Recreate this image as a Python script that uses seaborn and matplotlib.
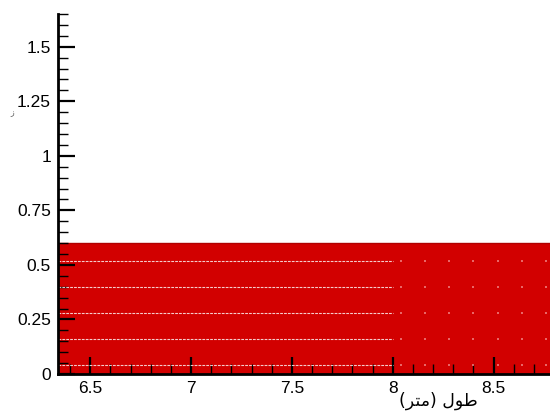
import matplotlib
matplotlib.use("Agg")
import matplotlib.pyplot as plt
from matplotlib.ticker import MultipleLocator, FuncFormatter
import pandas as pd
import seaborn as sns

# Channel section: water depth over the reach and computational mesh rows
reach_x = [6.34, 8.78]          # metres along the channel
water_depth = [0.6, 0.6]        # metres
mesh_rows = [0.04, 0.16, 0.28, 0.40, 0.52]
fine_mesh_end = 8.0
coarse_mesh_x = [8.04, 8.16, 8.28, 8.40, 8.52, 8.64, 8.76]

x_label = "(\uFEAE\uFE98\uFEE3) \uFEDD\uFEEE\uFEC3"   # طول (متر), shaped for display

sns.set_theme(style="white")
plt.rcParams["font.family"] = ["Liberation Sans", "DejaVu Sans"]

fig = plt.figure(figsize=(5.5, 4.12), dpi=100)
ax = fig.add_axes([58 / 550, 38 / 412, (550 - 58) / 550, (374 - 14) / 412])

# Water body
ax.fill_between(reach_x, 0, water_depth, color="#d20000", linewidth=0, zorder=1)
ax.plot(reach_x, water_depth, color="#b00000", lw=1.0, zorder=2)

# Fine mesh rows as dotted lines
fine = pd.DataFrame({
    "x": [reach_x[0], fine_mesh_end] * len(mesh_rows),
    "y": [r for r in mesh_rows for _ in range(2)],
    "row": [i for i in range(len(mesh_rows)) for _ in range(2)],
})
sns.lineplot(data=fine, x="x", y="y", units="row", estimator=None, ax=ax,
             color="white", lw=0.8, alpha=0.8, linestyle=(0, (2.5, 1)),
             sort=False, zorder=3)

# Coarse mesh nodes
coarse = pd.DataFrame([(x, y) for y in mesh_rows for x in coarse_mesh_x],
                      columns=["x", "y"])
sns.scatterplot(data=coarse, x="x", y="y", ax=ax, color="#f08080", s=2.5,
                marker="s", linewidth=0, alpha=0.8, zorder=3)

ax.set_xlim(6.34, 8.78)
ax.set_ylim(0, 1.65)
ax.set_xlabel("")
ax.set_ylabel("")

fmt = FuncFormatter(lambda v, p: f"{v:g}")
ax.xaxis.set_major_locator(MultipleLocator(0.5))
ax.xaxis.set_minor_locator(MultipleLocator(0.1))
ax.yaxis.set_major_locator(MultipleLocator(0.25))
ax.yaxis.set_minor_locator(MultipleLocator(0.05))
ax.xaxis.set_major_formatter(fmt)
ax.yaxis.set_major_formatter(fmt)

ax.tick_params(which="major", direction="in", length=12, width=1.6,
               color="black", labelsize=12.5, labelcolor="black")
ax.tick_params(which="minor", direction="in", length=7, width=1.0, color="black")
ax.tick_params(axis="x", which="both", bottom=True, top=False, pad=5)
ax.tick_params(axis="y", which="both", left=True, right=False, pad=5)

for side in ("top", "right"):
    ax.spines[side].set_visible(False)
for side in ("left", "bottom"):
    ax.spines[side].set_color("black")
    ax.spines[side].set_linewidth(2.0)
    ax.spines[side].set_zorder(5)
ax.set_axisbelow(False)
ax.grid(False)

fig.text(478 / 550, 1 - 401 / 412, x_label, ha="right", va="center",
         fontsize=12.5, family=["DejaVu Sans"], color="black")
fig.text(12 / 550, 1 - 113 / 412, "\uFEAF", ha="center", va="center",
         fontsize=5.5, family=["DejaVu Sans"], color="#555555")

fig.savefig("out.png", dpi=100)
